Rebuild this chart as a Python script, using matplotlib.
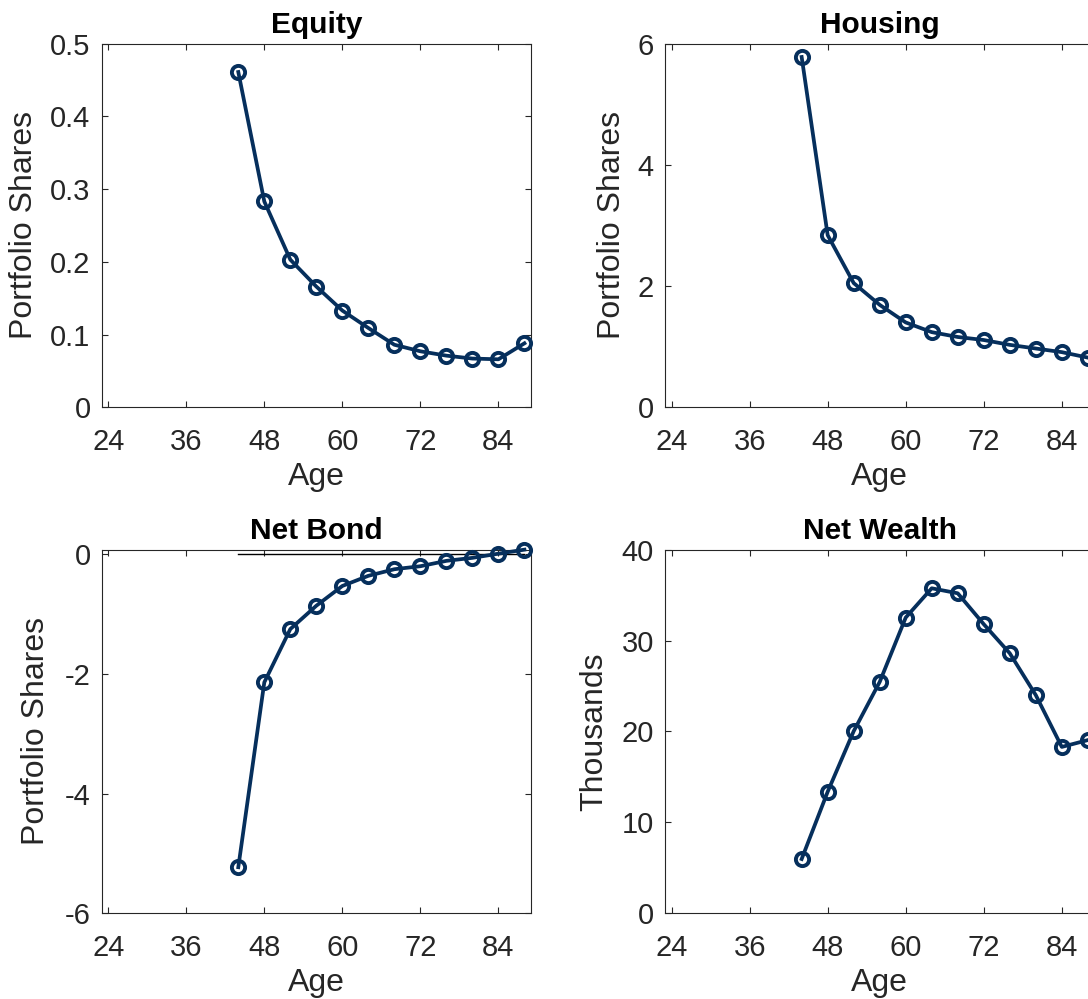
import matplotlib
matplotlib.use("Agg")
import matplotlib.pyplot as plt
import numpy as np

# ages where the model is evaluated
age = [44, 48, 52, 56, 60, 64, 68, 72, 76, 80, 84, 88]

equity = [0.461, 0.283, 0.203, 0.166, 0.133, 0.109, 0.086, 0.077, 0.071, 0.067, 0.066, 0.088]
housing = [5.78, 2.84, 2.05, 1.69, 1.40, 1.24, 1.16, 1.11, 1.03, 0.97, 0.91, 0.82]
net_bond = [-5.23, -2.14, -1.25, -0.86, -0.53, -0.36, -0.25, -0.20, -0.11, -0.06, 0.01, 0.077]
net_wealth = [5.97, 13.37, 20.03, 25.45, 32.53, 35.75, 35.2, 31.8, 28.6, 24.0, 18.3, 19.05]

xticks = [24, 36, 48, 60, 72, 84]

plt.rcParams['font.family'] = ['Liberation Sans', 'DejaVu Sans']

navy = '#062f5c'
grey = '#262626'

fig = plt.figure(figsize=(10.88, 9.99), dpi=100)

# axes positions in figure fraction (right column runs past the edge, like the cropped original)
w, h = 0.3945, 0.364
pos = {
    'eq': [0.0935, 0.5923, w, h],
    'ho': [0.6113, 0.5923, w, h],
    'nb': [0.0935, 0.0858, w, h],
    'nw': [0.6113, 0.0858, w, h],
}


def style(ax, title, ylabel, ylim, yticks, yticklabels, ylab_x):
    ax.set_xlim(23, 89)
    ax.set_ylim(*ylim)
    ax.set_xticks(xticks)
    ax.set_yticks(yticks)
    ax.set_yticklabels(yticklabels)
    ax.tick_params(direction='in', length=4, width=0.8, colors=grey,
                   labelsize=21, top=True, right=True)
    ax.tick_params(axis='x', pad=15)
    ax.tick_params(axis='y', pad=8)
    for s in ax.spines.values():
        s.set_color(grey)
        s.set_linewidth(0.8)
    ax.set_title(title, fontsize=21.5, fontweight='bold', pad=8)
    ax.set_xlabel('Age', fontsize=23, color=grey, va='center')
    ax.xaxis.set_label_coords(0.5, -0.191)
    ax.set_ylabel(ylabel, fontsize=23, color=grey, va='center')
    ax.yaxis.set_label_coords(ylab_x, 0.5)


def curve(ax, y):
    ax.plot(age, y, color=navy, linewidth=2.7, marker='o', markersize=9.5,
            markerfacecolor='none', markeredgewidth=2.8, markeredgecolor=navy,
            clip_on=False, zorder=3)


ax1 = fig.add_axes(pos['eq'])
curve(ax1, equity)
style(ax1, 'Equity', 'Portfolio Shares', (0, 0.5),
      [0, 0.1, 0.2, 0.3, 0.4, 0.5], ['0', '0.1', '0.2', '0.3', '0.4', '0.5'], -0.180)

ax2 = fig.add_axes(pos['ho'])
curve(ax2, housing)
style(ax2, 'Housing', 'Portfolio Shares', (0, 6),
      [0, 2, 4, 6], ['0', '2', '4', '6'], -0.124)

ax3 = fig.add_axes(pos['nb'])
ax3.plot(age, np.zeros(len(age)), color='black', linewidth=1.0, zorder=2)
curve(ax3, net_bond)
style(ax3, 'Net Bond', 'Portfolio Shares', (-6, max(net_bond)),
      [-6, -4, -2, 0], ['-6', '-4', '-2', '0'], -0.152)

ax4 = fig.add_axes(pos['nw'])
curve(ax4, net_wealth)
style(ax4, 'Net Wealth', 'Thousands', (0, 40),
      [0, 10, 20, 30, 40], ['0', '10', '20', '30', '40'], -0.165)

fig.savefig('out.png', dpi=100)
